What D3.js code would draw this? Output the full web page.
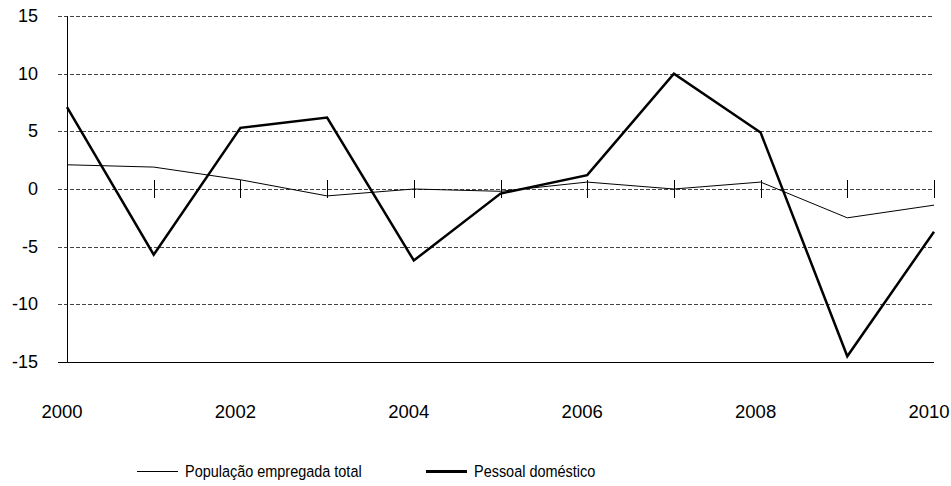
<!DOCTYPE html>
<html lang="pt">
<head>
  <meta charset="UTF-8">
  <title>População empregada vs Pessoal doméstico</title>
  <style>
    body { margin: 0; background: #fff; }
    svg { display: block; font-family: "Liberation Sans", Arial, sans-serif; }
    .grid { stroke: #444; stroke-width: 1; stroke-dasharray: 4,2; }
    .legend text { font-size: 17px; }
  </style>
  <script src="https://d3js.org/d3.v7.min.js"></script>
</head>
<body>
  <svg></svg>
  <script>
    const width = 951, height = 486;

    // data (variação anual, %)
    const years = [2000, 2001, 2002, 2003, 2004, 2005, 2006, 2007, 2008, 2009, 2010];
    const totalEmp = [2.1, 1.9, 0.8, -0.6, 0.0, -0.2, 0.6, 0.0, 0.6, -2.5, -1.4];
    const domestic = [7.1, -5.7, 5.3, 6.2, -6.2, -0.4, 1.2, 10.0, 4.9, -14.5, -3.7];
    const yTicks = [15, 10, 5, 0, -5, -10, -15];
    const xLabels = [2000, 2002, 2004, 2006, 2008, 2010];
    const seriesNames = ["População empregada total", "Pessoal doméstico"];

    const svg = d3.select("svg").attr("width", width).attr("height", height);

    const x = d3.scaleLinear().domain([2000, 2010]).range([67, 934]);
    const y = d3.scaleLinear().domain([-15, 15]).range([362, 16]);

    // gridlines
    svg.append("g")
      .selectAll("line")
      .data(yTicks.filter(d => d !== -15))
      .join("line")
      .attr("class", "grid")
      .attr("stroke", d => d === 0 ? "#000" : null)
      .attr("x1", 58).attr("x2", 934)
      .attr("y1", d => Math.round(y(d)) + 0.5)
      .attr("y2", d => Math.round(y(d)) + 0.5);

    // bottom axis line
    svg.append("line")
      .attr("x1", 58).attr("x2", 934)
      .attr("y1", Math.round(y(-15)) + 0.5).attr("y2", Math.round(y(-15)) + 0.5)
      .attr("stroke", "#000");

    // y axis line
    svg.append("line")
      .attr("x1", 67.5).attr("x2", 67.5)
      .attr("y1", y(15)).attr("y2", y(-15))
      .attr("stroke", "#000");

    // year ticks on zero line
    svg.append("g")
      .selectAll("line")
      .data(years)
      .join("line")
      .attr("x1", d => Math.round(x(d)) + 0.5)
      .attr("x2", d => Math.round(x(d)) + 0.5)
      .attr("y1", y(0) - 9).attr("y2", y(0) + 9)
      .attr("stroke", "#000");

    // y labels
    svg.append("g")
      .selectAll("text")
      .data(yTicks)
      .join("text")
      .attr("x", 38)
      .attr("y", d => y(d) + 6)
      .attr("text-anchor", "end")
      .attr("font-size", 18)
      .text(d => d);

    // x labels
    svg.append("g")
      .selectAll("text")
      .data(xLabels)
      .join("text")
      .attr("x", d => x(d) - 5)
      .attr("y", 418)
      .attr("text-anchor", "middle")
      .attr("font-size", 18.5)
      .text(d => d);

    const line = d3.line()
      .x((d, i) => x(years[i]))
      .y(d => y(d));

    svg.append("path")
      .datum(totalEmp)
      .attr("fill", "none")
      .attr("stroke", "#000")
      .attr("stroke-width", 1)
      .attr("d", line);

    svg.append("path")
      .datum(domestic)
      .attr("fill", "none")
      .attr("stroke", "#000")
      .attr("stroke-width", 2.5)
      .attr("stroke-linejoin", "miter")
      .attr("d", line);

    // legend (narrow text like Arial Narrow)
    const legend = svg.append("g").attr("class", "legend");
    const legendItems = [
      { name: seriesNames[0], x: 137, w: 1 },
      { name: seriesNames[1], x: 426, w: 3 }
    ];
    legendItems.forEach(it => {
      legend.append("line")
        .attr("x1", it.x).attr("x2", it.x + 41)
        .attr("y1", 471.5).attr("y2", 471.5)
        .attr("stroke", "#000").attr("stroke-width", it.w);
      legend.append("text")
        .attr("transform", `translate(${it.x + 48},477) scale(0.85,1)`)
        .text(it.name);
    });
  </script>
</body>
</html>
